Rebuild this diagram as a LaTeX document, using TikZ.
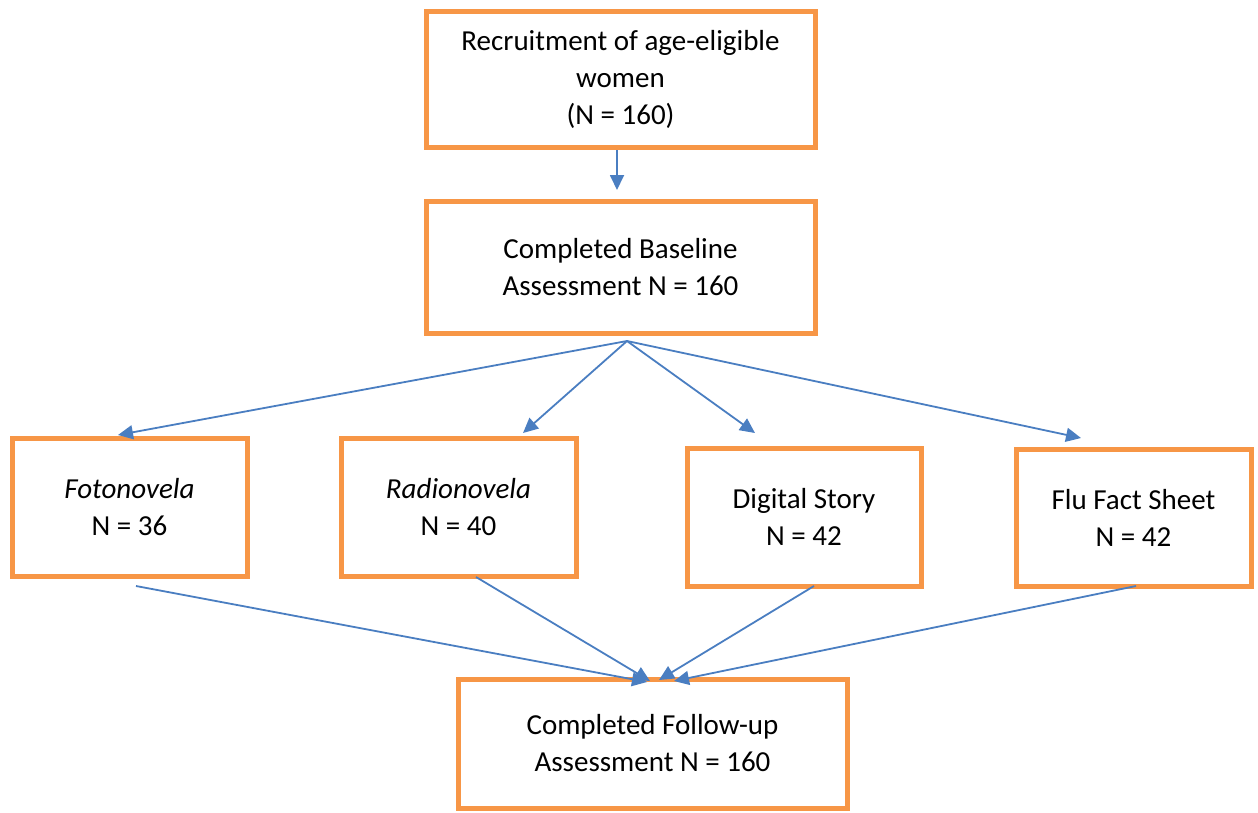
\documentclass[tikz,border=0pt]{standalone}
\usepackage{fontspec}
\setmainfont{Carlito}
\usetikzlibrary{arrows.meta}
\definecolor{boxorange}{RGB}{247,150,70}
\definecolor{arrowblue}{RGB}{74,126,193}
\begin{document}
\begin{tikzpicture}[x=1pt,y=-1pt,
  box/.style={draw=boxorange, line width=5pt, fill=white, rectangle, inner sep=0pt,
    align=center, font=\fontsize{29}{37}\selectfont},
  conn/.style={draw=arrowblue, line width=1.8pt, -{Triangle[length=15pt,width=14pt]}}]
\useasboundingbox (0,0) rectangle (1258,812);
\node[box, minimum width=389pt, minimum height=136pt] (top) at (620.5,79) {Recruitment of age-eligible\\women\\(N = 160)};
\node[box, minimum width=389pt, minimum height=132pt] (base) at (620.5,267) {Completed Baseline\\Assessment N = 160};
\node[box, minimum width=235pt, minimum height=138pt] (foto) at (129.5,507) {\textit{Fotonovela}\\N = 36};
\node[box, minimum width=235pt, minimum height=138pt] (radio) at (458.5,507) {\textit{Radionovela}\\N = 40};
\node[box, minimum width=234pt, minimum height=138pt] (digital) at (804,517) {Digital Story\\N = 42};
\node[box, minimum width=235pt, minimum height=137pt] (flu) at (1133.5,517.5) {Flu Fact Sheet\\N = 42};
\node[box, minimum width=389pt, minimum height=129pt] (follow) at (652.5,743.5) {Completed Follow-up\\Assessment N = 160};

\coordinate (fan) at (627,341);
\coordinate (topout) at (617,150);
\coordinate (basein) at (617,190);
\coordinate (fotoin) at (118,435);
\coordinate (radioin) at (523,433);
\coordinate (digitalin) at (755,433);
\coordinate (fluin) at (1081,438);
\coordinate (fotoout) at (136,586);
\coordinate (radioout) at (476,577);
\coordinate (digitalout) at (814,586);
\coordinate (fluout) at (1136,586);
\coordinate (fin1) at (647,682);
\coordinate (fin2) at (650,681);
\coordinate (fin3) at (659,680);
\coordinate (fin4) at (674,681);

\draw[conn] (topout) -- (basein);
\draw[conn] (fan) -- (fotoin);
\draw[conn] (fan) -- (radioin);
\draw[conn] (fan) -- (digitalin);
\draw[conn] (fan) -- (fluin);
\draw[conn] (fotoout) -- (fin1);
\draw[conn] (radioout) -- (fin2);
\draw[conn] (digitalout) -- (fin3);
\draw[conn] (fluout) -- (fin4);
\end{tikzpicture}
\end{document}
